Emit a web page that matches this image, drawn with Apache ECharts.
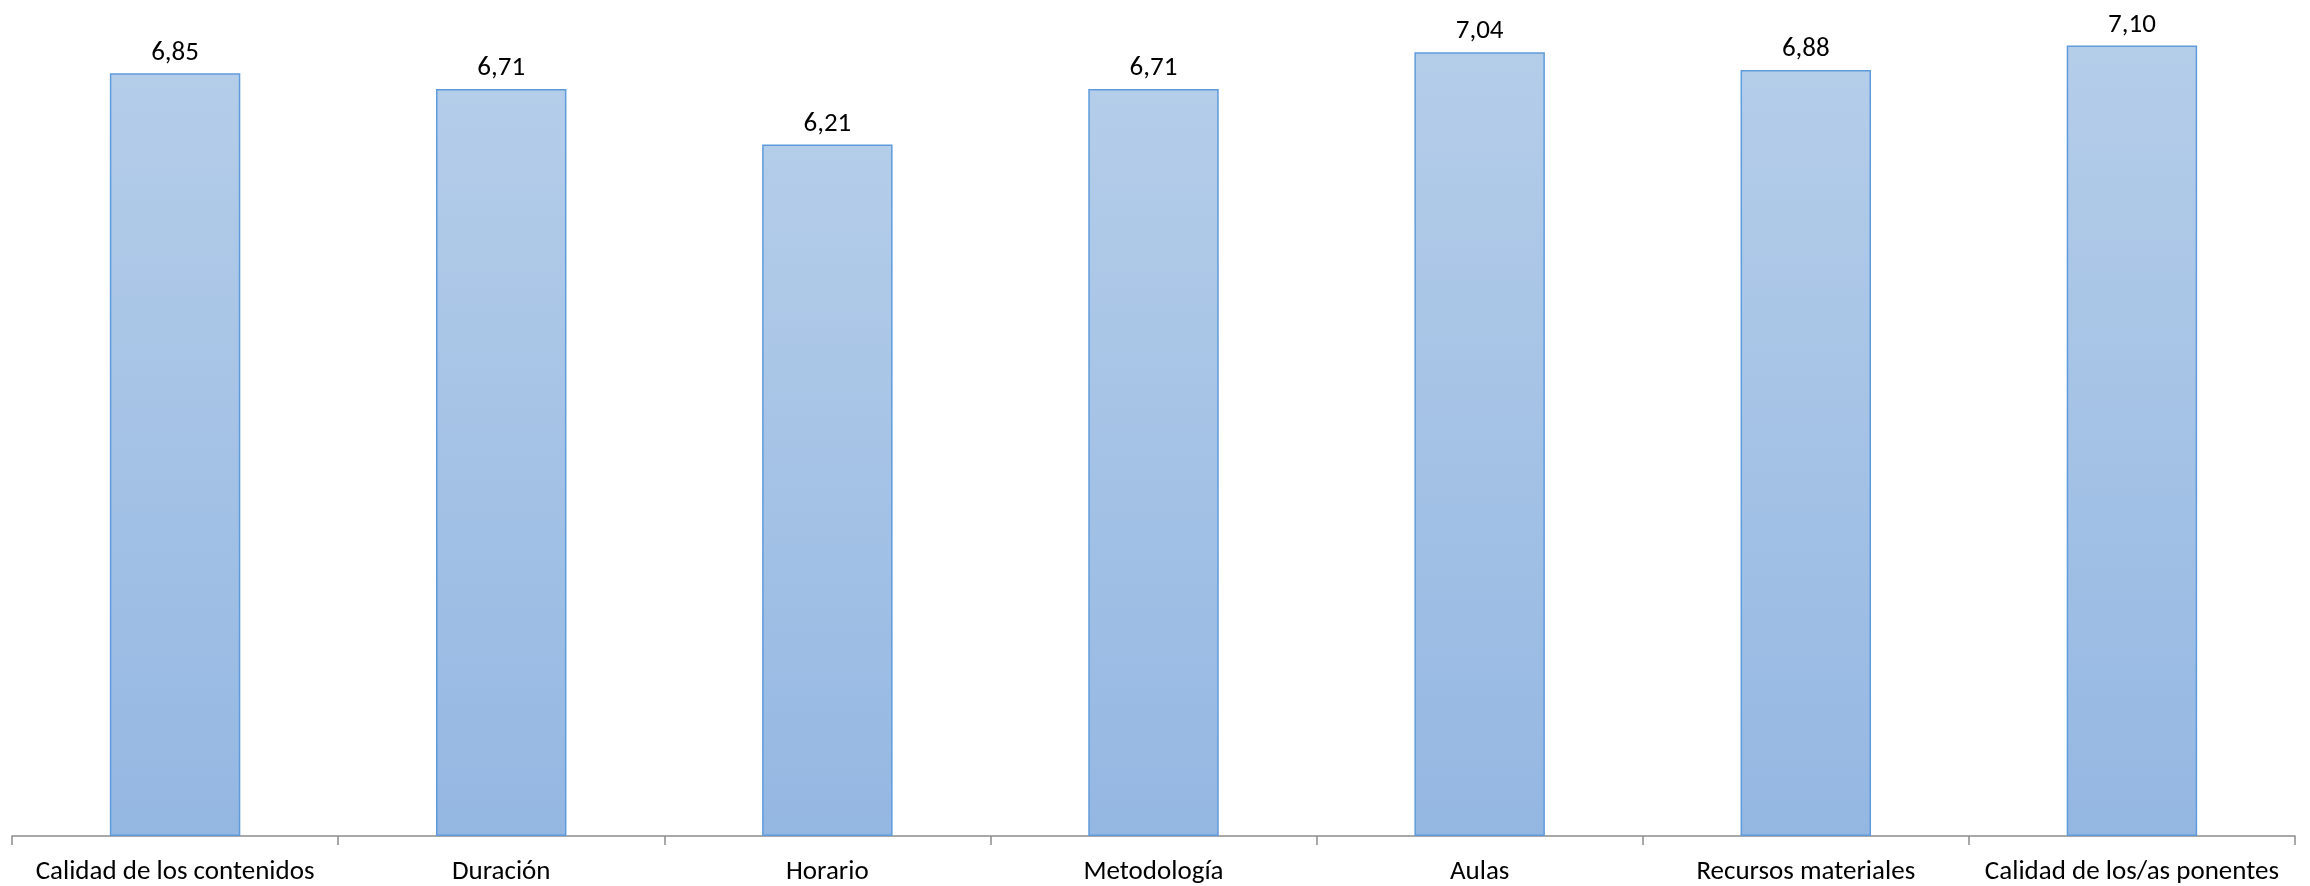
<!DOCTYPE html>
<html><head><meta charset="utf-8">
<script src="https://cdn.jsdelivr.net/npm/echarts@6/dist/echarts.min.js"></script>
<style>html,body{margin:0;padding:0;background:#fff}#c{width:2310px;height:886px}</style>
</head><body><div id="c"></div>
<script>
const categories = ["Calidad de los contenidos","Duración","Horario","Metodología","Aulas","Recursos materiales","Calidad de los/as ponentes"];
const values = [6.85, 6.71, 6.21, 6.71, 7.04, 6.88, 7.10];
const FONT = "Carlito, 'Open Sans', 'Noto Sans', sans-serif";
const chart = echarts.init(document.getElementById('c'));
chart.setOption({
  animation:false,
  backgroundColor:'#fff',
  grid:{left:12, right:15, top:1, bottom:49, containLabel:false},
  xAxis:{type:'category', data:categories,
    axisLine:{lineStyle:{color:'#8c8c8c', width:1.5}},
    axisTick:{show:true, interval:0, length:9, lineStyle:{color:'#8c8c8c', width:1.5}},
    axisLabel:{interval:0, hideOverlap:false, color:'#000', fontSize:27, fontFamily:FONT, margin:23}
  },
  yAxis:{type:'value', min:0, max:7.5, show:false, splitLine:{show:false}},
  series:[{type:'bar', data:values, barWidth:'40%',
    itemStyle:{
      color:new echarts.graphic.LinearGradient(0,0,0,1,[{offset:0,color:'#b4cde9'},{offset:1,color:'#94b7e2'}]),
      borderColor:'#5f9bdc', borderWidth:1.5
    },
    label:{show:true, position:'top', distance:7, color:'#000', fontSize:27, fontFamily:FONT,
      formatter:p=>p.value.toFixed(2).replace('.',',')}
  }]
});
</script></body></html>
